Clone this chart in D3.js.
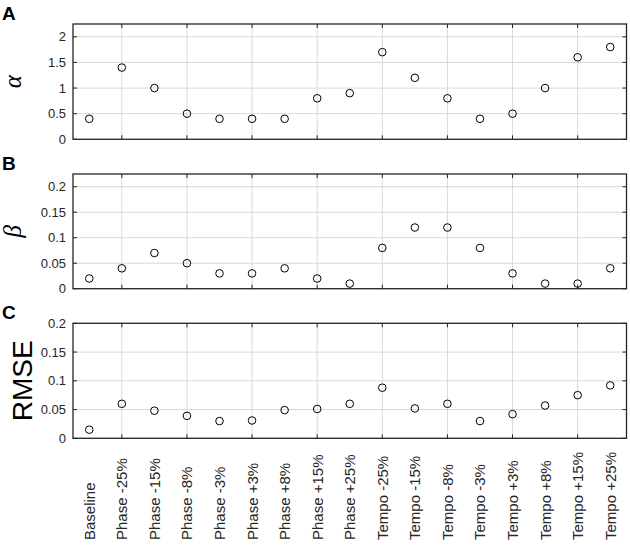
<!DOCTYPE html>
<html><head><meta charset="utf-8">
<script src="https://cdn.jsdelivr.net/npm/d3@7"></script>
<style>body{margin:0;background:#fff}svg{display:block}</style>
</head><body>
<svg id="c" width="630" height="548"></svg>
<script>
const categories = ["Baseline","Phase -25%","Phase -15%","Phase -8%","Phase -3%","Phase +3%","Phase +8%","Phase +15%","Phase +25%","Tempo -25%","Tempo -15%","Tempo -8%","Tempo -3%","Tempo +3%","Tempo +8%","Tempo +15%","Tempo +25%"];
const alphaValues = [0.4,1.4,1.0,0.5,0.4,0.4,0.4,0.8,0.9,1.7,1.2,0.8,0.4,0.5,1.0,1.6,1.8];
const betaValues = [0.02,0.04,0.07,0.05,0.03,0.03,0.04,0.02,0.01,0.08,0.12,0.12,0.08,0.03,0.01,0.01,0.04];
const rmseValues = [0.015,0.060,0.048,0.039,0.030,0.031,0.049,0.051,0.060,0.088,0.052,0.060,0.030,0.042,0.057,0.075,0.092];
const alphaTicks = [0,0.5,1,1.5,2];
const betaTicks = [0,0.05,0.1,0.15,0.2];
const rmseTicks = [0,0.05,0.1,0.15,0.2];

const svg = d3.select("#c");
const L = 73, R = 626.5;
const x = d3.scaleLinear().domain([-0.5, categories.length - 0.5]).range([L, R]);
const xTickIdx = d3.range(1, categories.length, 2);

const panels = [
  {letter:"A", vals:alphaValues, ticks:alphaTicks, max:2.25, top:24, bottom:139.3, label:"α", greek:true},
  {letter:"B", vals:betaValues, ticks:betaTicks, max:0.225, top:174, bottom:288.7, label:"β", greek:true},
  {letter:"C", vals:rmseValues, ticks:rmseTicks, max:0.2, top:323.3, bottom:438.3, label:"RMSE", greek:false}
];
const fmt = v => String(+v.toFixed(3));
const axisColor = "#262626";

panels.forEach(p => {
  const y = d3.scaleLinear().domain([0, p.max]).range([p.bottom, p.top]);
  const g = svg.append("g");
  g.selectAll(".gx").data(xTickIdx).join("line")
    .attr("x1", d => x(d)).attr("x2", d => x(d)).attr("y1", p.top).attr("y2", p.bottom)
    .attr("stroke", "#d9d9d9").attr("stroke-width", 1);
  g.selectAll(".gy").data(p.ticks).join("line")
    .attr("x1", L).attr("x2", R).attr("y1", d => y(d)).attr("y2", d => y(d))
    .attr("stroke", "#d9d9d9").attr("stroke-width", 1);
  const ax = d3.axisLeft(y).tickValues(p.ticks).tickSize(0).tickPadding(7).tickFormat(fmt);
  const ga = g.append("g").attr("transform", `translate(${L},0)`).call(ax);
  ga.select(".domain").remove();
  ga.selectAll("text").attr("font-family", "Liberation Sans, Arial, sans-serif").attr("font-size", 13).attr("fill", axisColor);
  g.selectAll(".tyl").data(p.ticks).join("line")
    .attr("x1", L).attr("x2", L + 4).attr("y1", d => y(d)).attr("y2", d => y(d)).attr("stroke", axisColor);
  g.selectAll(".tyr").data(p.ticks).join("line")
    .attr("x1", R).attr("x2", R - 4).attr("y1", d => y(d)).attr("y2", d => y(d)).attr("stroke", axisColor);
  g.selectAll(".txb").data(xTickIdx).join("line")
    .attr("x1", d => x(d)).attr("x2", d => x(d)).attr("y1", p.bottom).attr("y2", p.bottom - 4).attr("stroke", axisColor);
  g.selectAll(".txt").data(xTickIdx).join("line")
    .attr("x1", d => x(d)).attr("x2", d => x(d)).attr("y1", p.top).attr("y2", p.top + 4).attr("stroke", axisColor);
  g.append("rect").attr("x", L).attr("y", p.top).attr("width", R - L).attr("height", p.bottom - p.top)
    .attr("fill", "none").attr("stroke", axisColor).attr("stroke-width", 1.3);
  g.selectAll("circle").data(p.vals).join("circle")
    .attr("cx", (d, i) => x(i)).attr("cy", d => y(d)).attr("r", 3.8)
    .attr("fill", "none").attr("stroke", "#000").attr("stroke-width", 1);
  svg.append("text").attr("x", 2).attr("y", p.top - 4).text(p.letter)
    .attr("font-family", "Liberation Sans, Arial, sans-serif").attr("font-weight", "bold").attr("font-size", 19);
  const cy = (p.top + p.bottom) / 2;
  if (p.greek) {
    svg.append("text").attr("transform", `translate(21,${cy}) rotate(-90)`).attr("text-anchor", "middle")
      .attr("font-family", "Liberation Serif, serif").attr("font-style", "italic").attr("font-size", 25).text(p.label);
  } else {
    svg.append("text").attr("transform", `translate(32,${cy}) rotate(-90)`).attr("text-anchor", "middle")
      .attr("font-family", "Liberation Sans, Arial, sans-serif").attr("font-size", 28).attr("fill", "#000").text(p.label);
  }
});

svg.append("g").selectAll("text").data(categories).join("text")
  .attr("transform", (d, i) => `translate(${x(i) + 5.5},540) rotate(-90)`)
  .attr("text-anchor", "start")
  .attr("font-family", "Liberation Sans, Arial, sans-serif").attr("font-size", 15).attr("fill", axisColor)
  .text(d => d);
</script>
</body></html>
